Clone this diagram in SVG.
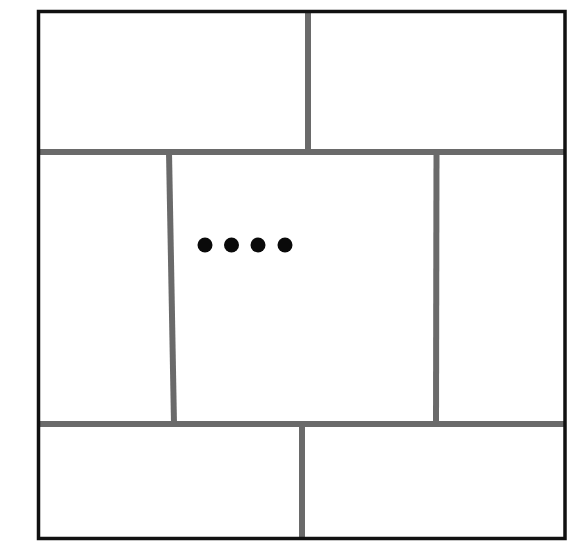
<svg xmlns="http://www.w3.org/2000/svg" width="571" height="543" viewBox="0 0 571 543">
<style>
.div{stroke:#6a6a6a;stroke-width:6;fill:none;stroke-linecap:butt}
.frame{stroke:#111;stroke-width:3.5;fill:none}
.dot{fill:#0a0a0a}
</style>
<rect width="571" height="543" fill="#ffffff"/>
<g id="connectors">
<line class="div" x1="39" y1="152" x2="565" y2="152"/>
<line class="div" x1="39" y1="424" x2="565" y2="424"/>
<line class="div" x1="308" y1="12" x2="308" y2="152"/>
<line class="div" x1="169" y1="152" x2="174" y2="424"/>
<line class="div" x1="436.5" y1="152" x2="436" y2="424"/>
<line class="div" x1="302" y1="424" x2="302" y2="538"/>
</g>
<g id="frame">
<rect class="frame" x="38.5" y="11.5" width="526.5" height="527"/>
</g>
<g id="dots">
<circle class="dot" cx="205" cy="245" r="7.5"/>
<circle class="dot" cx="231.5" cy="245" r="7.5"/>
<circle class="dot" cx="258" cy="245" r="7.5"/>
<circle class="dot" cx="285" cy="245" r="7.5"/>
</g>
</svg>
